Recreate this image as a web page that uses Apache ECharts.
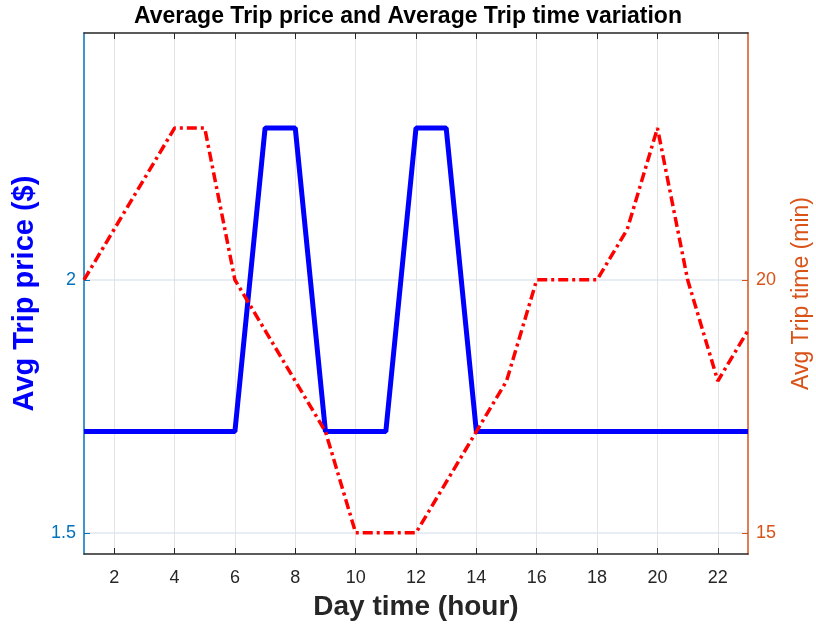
<!DOCTYPE html>
<html>
<head>
<meta charset="utf-8">
<script src="https://cdn.jsdelivr.net/npm/echarts@6/dist/echarts.min.js"></script>
<style>
  html, body { margin: 0; padding: 0; background: #fff; }
  #main { width: 816px; height: 630px; }
</style>
</head>
<body>
<div id="main"></div>
<script>
var myChart = echarts.init(document.getElementById("main"));

// hours of the day
const hours = [1, 2, 3, 4, 5, 6, 7, 8, 9, 10, 11, 12, 13, 14, 15, 16, 17, 18, 19, 20, 21, 22, 23];
// average trip price ($)
const price = [1.7, 1.7, 1.7, 1.7, 1.7, 1.7, 2.3, 2.3, 1.7, 1.7, 1.7, 2.3, 2.3, 1.7, 1.7, 1.7, 1.7, 1.7, 1.7, 1.7, 1.7, 1.7, 1.7];
// average trip time (min)
const tripTime = [20, 21, 22, 23, 23, 20, 19, 18, 17, 15, 15, 15, 16, 17, 18, 20, 20, 20, 21, 23, 20, 18, 19];
// tick labels
const priceTicks = [1.5, 2];
const timeTicks = [15, 20];

const evenOnly = function (index, value) {
  return Number(value) % 2 === 0;
};

const fontFam = "Liberation Sans, Arial, sans-serif";

option = {
  animation: false,
  title: {
    text: "Average Trip price and Average Trip time variation",
    left: "center",
    top: 0,
    textStyle: { fontFamily: fontFam, fontSize: 23, fontWeight: "bold", color: "#000" },
  },
  grid: { left: 84, right: 68, top: 33, bottom: 76, outerBoundsMode: "none", containLabel: false },
  xAxis: [
    {
      type: "category",
      data: hours.map(String),
      boundaryGap: false,
      name: "Day time (hour)",
      nameLocation: "middle",
      nameGap: 39,
      nameTextStyle: { fontFamily: fontFam, fontSize: 28, fontWeight: "bold", color: "#262626" },
      axisLine: { lineStyle: { color: "#262626", width: 1.5 } },
      axisTick: { inside: true, interval: evenOnly, length: 6, lineStyle: { color: "#262626" } },
      axisLabel: { interval: evenOnly, fontFamily: fontFam, fontSize: 18, color: "#262626", margin: 15 },
      splitLine: { show: true, interval: evenOnly, lineStyle: { color: "#e3e3e3", width: 1 } },
    },
    {
      type: "category",
      data: hours.map(String),
      boundaryGap: false,
      position: "top",
      axisLine: { lineStyle: { color: "#262626", width: 1.5 } },
      axisTick: { inside: true, interval: evenOnly, length: 6, lineStyle: { color: "#262626" } },
      axisLabel: { show: false },
      splitLine: { show: false },
    },
  ],
  yAxis: [
    {
      type: "value",
      min: 1.458,
      max: 2.488,
      name: "Avg Trip price ($)",
      nameLocation: "middle",
      nameGap: 45,
      nameTextStyle: { fontFamily: fontFam, fontSize: 29, fontWeight: "bold", color: "#0000ff" },
      axisLine: { show: true, lineStyle: { color: "#0072bd", width: 1.5 } },
      axisTick: { show: true, inside: true, length: 6, customValues: priceTicks, lineStyle: { color: "#0072bd" } },
      axisLabel: { customValues: priceTicks, fontFamily: fontFam, fontSize: 18, color: "#0072bd", margin: 8 },
      splitLine: { show: true, lineStyle: { color: "#dfe7ef", width: 1.5 } },
    },
    {
      type: "value",
      min: 14.58,
      max: 24.88,
      position: "right",
      name: "Avg Trip time (min)",
      nameLocation: "middle",
      nameGap: 42,
      nameRotate: 90,
      nameTextStyle: { fontFamily: fontFam, fontSize: 23, color: "#d95319" },
      axisLine: { show: true, lineStyle: { color: "#d95319", width: 1.5 } },
      axisTick: { show: true, inside: true, length: 6, customValues: timeTicks, lineStyle: { color: "#d95319" } },
      axisLabel: { customValues: timeTicks, fontFamily: fontFam, fontSize: 18, color: "#d95319", margin: 8 },
      splitLine: { show: false },
    },
  ],
  series: [
    {
      name: "price",
      type: "line",
      xAxisIndex: 0,
      yAxisIndex: 0,
      data: price,
      symbol: "none",
      lineStyle: { color: "#0000ff", width: 5 },
    },
    {
      name: "time",
      type: "line",
      xAxisIndex: 0,
      yAxisIndex: 1,
      data: tripTime,
      symbol: "none",
      lineStyle: { color: "#ff0000", width: 3.5, type: [10, 4, 3, 4] },
    },
  ],
};
myChart.setOption(option);
</script>
</body>
</html>
